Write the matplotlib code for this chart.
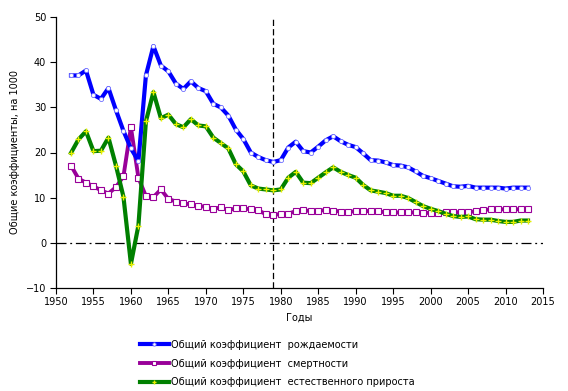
import matplotlib
matplotlib.use("Agg")
import matplotlib.pyplot as plt

years = list(range(1952, 2014))
birth = [37.1, 37.1, 38.2, 32.8, 31.9, 34.3, 29.4, 24.8, 20.9, 18.1,
         37.1, 43.6, 39.3, 38.0, 35.3, 34.1, 35.8, 34.3, 33.6, 30.8,
         30.0, 28.2, 25.1, 23.0, 20.0, 19.0, 18.3, 17.9, 18.3, 21.1,
         22.4, 20.3, 20.0, 21.3, 22.7, 23.6, 22.5, 21.7, 21.2, 19.8,
         18.3, 18.2, 17.8, 17.2, 17.1, 16.7, 15.8, 14.8, 14.3, 13.7,
         13.1, 12.5, 12.4, 12.6, 12.2, 12.2, 12.2, 12.2, 12.0, 12.2,
         12.2, 12.2]
death = [17.1, 14.2, 13.3, 12.5, 11.6, 10.9, 12.3, 14.7, 25.6, 14.4,
         10.3, 10.1, 11.8, 9.7, 9.1, 8.7, 8.5, 8.2, 7.9, 7.5,
         7.8, 7.2, 7.6, 7.6, 7.4, 7.2, 6.3, 6.1, 6.4, 6.4,
         7.0, 7.2, 7.0, 7.1, 7.2, 7.1, 6.9, 6.8, 7.0, 7.0,
         7.0, 7.0, 6.7, 6.7, 6.7, 6.7, 6.7, 6.6, 6.6, 6.6,
         6.7, 6.8, 6.7, 6.7, 7.0, 7.2, 7.4, 7.4, 7.4, 7.4,
         7.4, 7.4]
natural = [19.9, 22.9, 24.7, 20.3, 20.4, 23.3, 17.1, 10.2, -4.7, 3.8,
           26.9, 33.4, 27.6, 28.4, 26.3, 25.6, 27.4, 26.0, 25.8, 23.3,
           22.1, 20.9, 17.4, 15.8, 12.7, 12.0, 11.8, 11.6, 11.8, 14.4,
           15.7, 13.3, 13.2, 14.4, 15.6, 16.7, 15.7, 15.0, 14.4, 12.8,
           11.6, 11.3, 11.0, 10.4, 10.4, 9.9, 9.0, 8.1, 7.5, 7.0,
           6.4, 5.9, 5.7, 5.8, 5.2, 5.1, 5.1, 4.8, 4.6, 4.6,
           4.9, 4.9]

labels = ["Общий коэффициент  рождаемости",
          "Общий коэффициент  смертности",
          "Общий коэффициент  естественного прироста"]
marker_year = 1979
xticks = list(range(1950, 2016, 5))
yticks = list(range(-10, 51, 10))

plt.rcParams['font.family'] = ['DejaVu Sans']
fig = plt.figure(figsize=(5.68, 3.91), dpi=100)
ax = fig.add_axes([56/568, 1-287.7/391, (543-56)/568, (287.7-17.3)/391])

ax.plot(years, birth, color='#0000FF', lw=3.0, marker='o', ms=3,
        mfc='white', mec='#6f6fff', mew=0.6, label=labels[0], zorder=4)
ax.plot(years, death, color='#990099', lw=2.8, marker='s', ms=4,
        mfc='white', mec='#990099', mew=0.8, label=labels[1], zorder=3)
ax.plot(years, natural, color='#008000', lw=3.0, marker='+', ms=4,
        mec='#e8f000', mew=1.0, label=labels[2], zorder=5)

ax.axhline(0, color='black', lw=0.9, ls=(0, (8, 3, 1.5, 3)), zorder=1)
ax.axvline(marker_year, color='black', lw=0.9, ls=(0, (5, 2.5)), zorder=1)

ax.set_xlim(1950, 2015)
ax.set_ylim(-10, 50)
ax.set_xticks(xticks)
ax.set_yticks(yticks)
ax.tick_params(labelsize=7, length=4, width=0.8, direction='out', pad=3)
for s in ['top', 'right']:
    ax.spines[s].set_visible(False)
for s in ['left', 'bottom']:
    ax.spines[s].set_linewidth(0.9)

ax.set_xlabel("Годы", fontsize=7)
ax.set_ylabel("Общие коэффициенты, на 1000", fontsize=7)

leg = fig.legend(loc='upper left', bbox_to_anchor=(135/568, 1-335/391),
                 frameon=False, fontsize=7, handlelength=3.0,
                 handletextpad=0.2, labelspacing=0.9, borderpad=0,
                 markerscale=0.8)

fig.savefig("out.png", dpi=100)
